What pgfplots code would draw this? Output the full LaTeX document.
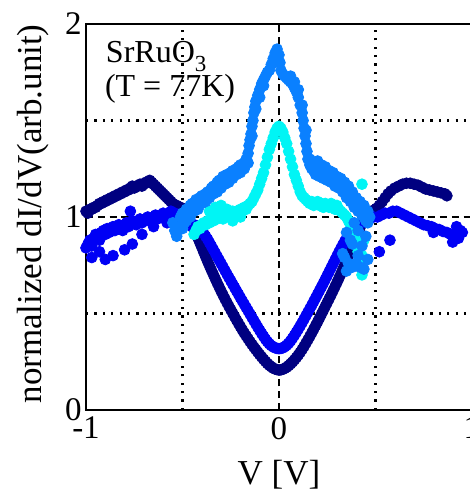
\documentclass[border=0pt]{standalone}
\usepackage{fontspec}
\setmainfont{Liberation Serif}
\usepackage{pgfplots}
\pgfplotsset{compat=1.18}
\definecolor{navyc}{HTML}{000080}
\definecolor{bluec}{HTML}{0000F5}
\definecolor{midc}{HTML}{0A80FF}
\definecolor{cyanc}{HTML}{00F5F5}

\begin{document}
\begin{tikzpicture}
\begin{axis}[
    scale only axis,
    width=193pt, height=193pt,
    xmin=-1, xmax=1, ymin=0, ymax=2,
    axis on top,
    axis line style={black, line width=1pt},
    xtick={-1,0,1}, xticklabels={-1,0,1},
    ytick={0,1,2}, yticklabels={0,1,2},
    minor xtick={-0.5,0.5}, minor ytick={0.5,1.5},
    major tick length=0pt, minor tick length=0pt,
    grid=both,
    major grid style={black, line width=0.9pt, dash pattern=on 3.6pt off 2.3pt},
    minor grid style={black, line width=1.1pt, dash pattern=on 1.1pt off 3.1pt},
    tick label style={font=\fontsize{16.5}{18}\selectfont},
    yticklabel style={inner xsep=2pt},
    xlabel={V [V]},
    xlabel style={at={(axis description cs:0.5,0)}, anchor=base, yshift=-37.5pt,
      font=\fontsize{17.5}{20}\selectfont},
    ylabel={normalized dI/dV(arb.unit)},
    ylabel style={at={(axis description cs:-0.137,0.508)}, anchor=center,
      font=\fontsize{17.5}{20}\selectfont},
    every axis plot/.append style={only marks, mark=*, mark size=2.7pt},
]
% navy: V-shaped gap, humps outside
\addplot[navyc, mark options={draw=none, fill=navyc}] coordinates {
(-1.00,1.03)(-0.99,1.02)(-0.98,1.04)(-0.97,1.04)(-0.96,1.05)(-0.95,1.05)(-0.94,1.06)(-0.93,1.07)
(-0.92,1.07)(-0.91,1.08)(-0.90,1.08)(-0.89,1.09)(-0.88,1.09)(-0.87,1.10)(-0.86,1.10)(-0.85,1.11)
(-0.84,1.11)(-0.83,1.12)(-0.82,1.12)(-0.81,1.13)(-0.80,1.13)(-0.79,1.14)(-0.78,1.14)(-0.77,1.15)
(-0.76,1.16)(-0.75,1.15)(-0.74,1.16)(-0.73,1.16)(-0.72,1.17)(-0.71,1.16)(-0.70,1.17)(-0.69,1.18)
(-0.68,1.18)(-0.67,1.19)(-0.66,1.18)(-0.65,1.17)(-0.64,1.16)(-0.63,1.15)(-0.62,1.14)(-0.61,1.13)
(-0.60,1.12)(-0.59,1.11)(-0.58,1.10)(-0.57,1.09)(-0.56,1.08)(-0.55,1.07)(-0.54,1.06)(-0.53,1.06)
(-0.52,1.05)(-0.51,1.05)(-0.50,1.04)(-0.49,1.02)(-0.48,1.00)(-0.47,0.98)(-0.46,0.965)
(-0.45,0.95)(-0.44,0.934)(-0.43,0.914)(-0.42,0.891)(-0.41,0.867)(-0.40,0.843)(-0.39,0.818)
(-0.38,0.794)(-0.37,0.77)(-0.36,0.747)(-0.35,0.724)(-0.34,0.702)(-0.33,0.68)(-0.32,0.658)
(-0.31,0.637)(-0.30,0.616)(-0.29,0.596)(-0.28,0.576)(-0.27,0.557)(-0.26,0.538)(-0.25,0.52)
(-0.24,0.502)(-0.23,0.484)(-0.22,0.466)(-0.21,0.449)(-0.20,0.432)(-0.19,0.415)(-0.18,0.399)
(-0.17,0.384)(-0.16,0.369)(-0.15,0.354)(-0.14,0.34)(-0.13,0.326)(-0.12,0.313)(-0.11,0.30)
(-0.10,0.287)(-0.09,0.275)(-0.08,0.263)(-0.07,0.252)(-0.06,0.241)(-0.05,0.232)(-0.04,0.224)
(-0.03,0.217)(-0.02,0.212)(-0.01,0.209)(0.00,0.207)
(0.01,0.208)(0.02,0.211)(0.03,0.216)(0.04,0.222)(0.05,0.23)(0.06,0.239)(0.07,0.249)(0.08,0.26)
(0.09,0.272)(0.10,0.285)(0.11,0.299)(0.12,0.314)(0.13,0.33)(0.14,0.347)(0.15,0.364)(0.16,0.382)
(0.17,0.40)(0.18,0.419)(0.19,0.438)(0.20,0.457)(0.21,0.477)(0.22,0.497)(0.23,0.517)(0.24,0.537)
(0.25,0.557)(0.26,0.577)(0.27,0.597)(0.28,0.618)(0.29,0.639)(0.30,0.66)(0.31,0.682)(0.32,0.704)
(0.33,0.727)(0.34,0.75)(0.35,0.774)(0.36,0.798)(0.37,0.823)(0.38,0.848)(0.39,0.873)(0.40,0.898)
(0.41,0.922)(0.42,0.945)(0.43,0.966)(0.44,0.985)(0.45,1.00)(0.46,1.013)(0.475,1.025)
(0.49,1.035)(0.505,1.045)(0.52,1.06)(0.535,1.08)(0.55,1.10)(0.565,1.12)(0.58,1.135)(0.60,1.15)
(0.62,1.16)(0.64,1.17)(0.66,1.175)(0.68,1.175)(0.70,1.17)(0.72,1.165)(0.74,1.155)(0.76,1.145)
(0.78,1.14)(0.80,1.135)(0.82,1.13)(0.84,1.125)(0.86,1.12)(0.87,1.11)
};
% blue: shallower V, noisy flanks
\addplot[bluec, mark options={draw=none, fill=bluec}] coordinates {
(-1.00,0.84)(-0.99,0.86)(-0.98,0.88)(-0.97,0.85)(-0.96,0.89)(-0.95,0.91)(-0.94,0.90)(-0.93,0.88)
(-0.92,0.92)(-0.91,0.93)(-0.90,0.91)(-0.89,0.94)(-0.88,0.92)(-0.87,0.93)(-0.86,0.95)(-0.85,0.93)
(-0.84,0.94)(-0.83,0.96)(-0.82,0.95)(-0.81,0.93)(-0.80,0.96)(-0.79,0.97)(-0.78,0.95)(-0.77,0.96)
(-0.76,0.98)(-0.75,0.97)(-0.74,0.96)(-0.73,0.98)(-0.72,0.99)(-0.71,0.97)(-0.70,0.98)(-0.69,0.99)
(-0.68,1.00)(-0.67,0.98)(-0.66,0.99)(-0.65,1.00)(-0.64,1.01)(-0.63,0.99)(-0.62,1.00)(-0.61,1.01)
(-0.60,1.02)(-0.59,1.00)(-0.58,1.01)(-0.57,1.02)(-0.56,1.03)(-0.55,1.01)(-0.54,1.02)(-0.53,1.00)
(-0.52,1.01)(-0.51,0.99)(-0.50,1.00)(-0.49,0.98)(-0.48,0.97)(-0.47,0.96)(-0.46,0.97)(-0.45,0.95)
(-0.97,0.79)(-0.90,0.78)(-0.86,0.80)(-0.80,0.83)(-0.76,0.86)(-0.93,0.82)(-0.77,1.03)(-0.71,0.91)
(-0.65,0.95)(-0.58,0.97)
(-0.44,0.96)(-0.43,0.955)(-0.42,0.95)(-0.41,0.94)(-0.40,0.93)(-0.39,0.915)(-0.38,0.90)
(-0.37,0.885)(-0.36,0.867)(-0.35,0.849)(-0.34,0.831)(-0.33,0.813)(-0.32,0.795)(-0.31,0.777)
(-0.30,0.759)(-0.29,0.741)(-0.28,0.723)(-0.27,0.705)(-0.26,0.687)(-0.25,0.67)(-0.24,0.652)
(-0.23,0.635)(-0.22,0.617)(-0.21,0.60)(-0.20,0.582)(-0.19,0.565)(-0.18,0.548)(-0.17,0.531)
(-0.16,0.514)(-0.15,0.497)(-0.14,0.48)(-0.13,0.463)(-0.12,0.446)(-0.11,0.429)(-0.10,0.413)
(-0.09,0.397)(-0.08,0.382)(-0.07,0.367)(-0.06,0.354)(-0.05,0.343)(-0.04,0.334)(-0.03,0.327)
(-0.02,0.322)(-0.01,0.319)(0.00,0.318)
(0.01,0.319)(0.02,0.322)(0.03,0.328)(0.04,0.336)(0.05,0.346)(0.06,0.358)(0.07,0.372)(0.08,0.387)
(0.09,0.403)(0.10,0.419)(0.11,0.436)(0.12,0.453)(0.13,0.471)(0.14,0.489)(0.15,0.507)(0.16,0.525)
(0.17,0.543)(0.18,0.562)(0.19,0.581)(0.20,0.60)(0.21,0.619)(0.22,0.638)(0.23,0.657)(0.24,0.677)
(0.25,0.697)(0.26,0.717)(0.27,0.737)(0.28,0.757)(0.29,0.777)(0.30,0.797)(0.31,0.817)(0.32,0.836)
(0.33,0.855)(0.34,0.873)(0.35,0.89)(0.36,0.905)(0.37,0.92)(0.38,0.933)(0.39,0.945)(0.40,0.955)
(0.42,0.965)(0.44,0.975)(0.46,0.985)
(0.47,0.99)(0.49,1.00)(0.51,1.00)(0.53,1.01)(0.55,1.02)(0.57,1.02)(0.59,1.03)(0.61,1.03)
(0.63,1.02)(0.65,1.01)(0.67,1.00)(0.69,0.99)(0.71,0.98)(0.73,0.97)(0.75,0.96)(0.77,0.955)
(0.79,0.95)(0.81,0.94)(0.83,0.935)(0.85,0.925)(0.87,0.92)(0.89,0.91)(0.91,0.90)(0.93,0.89)
(0.95,0.92)(0.575,0.88)(0.52,0.82)(0.92,0.95)(0.94,0.93)(0.90,0.87)(0.80,0.92)
};
% cyan: narrow zero-bias peak
\addplot[cyanc, mark options={draw=none, fill=cyanc}] coordinates {
(-0.44,0.91)(-0.43,0.93)(-0.42,0.95)(-0.41,0.94)(-0.40,0.96)(-0.39,0.97)(-0.38,0.96)(-0.37,0.98)
(-0.36,0.97)(-0.35,0.99)(-0.34,0.98)(-0.33,1.00)(-0.32,0.99)(-0.31,1.00)(-0.30,1.01)(-0.29,0.99)
(-0.28,1.01)(-0.27,1.02)(-0.26,1.00)(-0.25,1.02)(-0.24,1.03)(-0.23,1.01)(-0.22,1.03)(-0.21,1.02)
(-0.20,1.04)(-0.19,1.03)(-0.18,1.05)(-0.17,1.04)(-0.16,1.06)(-0.15,1.07)(-0.14,1.08)(-0.13,1.10)
(-0.12,1.12)(-0.11,1.14)(-0.10,1.17)(-0.09,1.20)(-0.08,1.23)(-0.07,1.27)(-0.06,1.31)(-0.05,1.35)
(-0.04,1.38)(-0.03,1.41)(-0.02,1.44)(-0.01,1.46)(0.00,1.47)(0.01,1.46)(0.02,1.44)(0.03,1.41)
(0.04,1.38)(0.05,1.34)(0.06,1.30)(0.07,1.26)(0.08,1.22)(0.09,1.19)(0.10,1.16)(0.11,1.13)
(0.12,1.11)(0.13,1.10)(0.14,1.09)(0.15,1.08)(0.16,1.07)(0.17,1.08)(0.18,1.06)(0.19,1.07)
(0.20,1.08)(0.21,1.06)(0.22,1.07)(0.23,1.05)(0.24,1.07)(0.25,1.06)(0.26,1.05)(0.27,1.07)
(0.28,1.06)(0.29,1.04)(0.30,1.06)(0.31,1.04)(0.32,1.03)(0.33,1.02)(0.34,1.01)(0.35,1.00)
(0.36,0.98)(0.37,0.96)(0.38,0.95)(0.39,0.93)(0.40,0.91)(0.41,0.88)(0.42,0.85)(0.43,0.80)
(0.43,1.17)(0.43,0.70)(0.42,0.76)(0.41,0.82)(0.44,0.88)
(-0.36,1.03)(-0.33,1.05)(-0.30,1.06)(-0.27,1.04)(-0.24,0.98)(-0.20,1.00)
};
% medium blue: broad zero-bias peak
\addplot[midc, mark options={draw=none, fill=midc}] coordinates {
(-0.55,0.97)(-0.54,0.93)(-0.53,0.90)(-0.52,0.95)(-0.51,1.00)(-0.50,1.02)(-0.49,0.97)(-0.48,1.04)
(-0.47,1.00)(-0.46,1.06)(-0.45,1.07)(-0.44,1.03)(-0.43,1.09)(-0.42,1.08)(-0.41,1.10)(-0.40,1.11)
(-0.39,1.09)(-0.38,1.12)(-0.37,1.13)(-0.36,1.12)(-0.35,1.15)(-0.34,1.16)(-0.33,1.15)(-0.32,1.18)
(-0.31,1.19)(-0.30,1.17)(-0.29,1.21)(-0.28,1.20)(-0.27,1.22)(-0.26,1.21)(-0.25,1.23)(-0.24,1.24)
(-0.23,1.22)(-0.22,1.25)(-0.21,1.26)(-0.20,1.27)(-0.19,1.26)(-0.18,1.28)(-0.17,1.30)(-0.16,1.33)
(-0.155,1.37)(-0.15,1.40)(-0.145,1.43)(-0.14,1.47)(-0.135,1.50)(-0.13,1.54)(-0.125,1.57)
(-0.12,1.60)(-0.11,1.63)(-0.10,1.66)(-0.09,1.69)(-0.08,1.71)(-0.07,1.73)(-0.06,1.75)(-0.05,1.76)
(-0.04,1.79)(-0.03,1.82)(-0.02,1.85)(-0.01,1.87)(0.00,1.84)(0.005,1.80)(0.01,1.76)(0.02,1.74)
(0.03,1.73)(0.04,1.72)(0.05,1.71)(0.06,1.70)(0.07,1.69)(0.08,1.67)(0.09,1.65)(0.10,1.62)
(0.11,1.58)(0.12,1.54)(0.125,1.50)(0.13,1.46)(0.135,1.42)(0.14,1.38)(0.145,1.34)(0.15,1.30)
(0.16,1.27)(0.17,1.25)(0.18,1.24)(0.19,1.22)(0.20,1.25)(0.21,1.21)(0.22,1.23)(0.23,1.20)
(0.24,1.22)(0.25,1.19)(0.26,1.21)(0.27,1.18)(0.28,1.20)(0.29,1.16)(0.30,1.18)(0.31,1.15)
(0.32,1.17)(0.33,1.13)(0.34,1.14)(0.35,1.10)(0.36,1.12)(0.37,1.08)(0.38,1.09)(0.39,1.05)
(0.40,1.06)(0.41,1.03)(0.42,1.04)(0.43,1.01)(0.44,1.00)(0.45,0.98)(0.46,0.97)
(0.35,0.92)(0.37,0.88)(0.38,0.86)(0.33,0.81)(0.34,0.79)(0.36,0.76)(0.38,0.74)(0.40,0.76)
(0.42,0.74)(0.44,0.73)(0.35,0.72)(0.41,0.80)(0.43,0.85)(0.45,0.90)(0.46,0.78)(0.39,0.97)
(0.41,0.93)
(-0.50,0.94)(-0.48,0.98)(-0.46,1.00)(-0.44,1.05)(-0.42,1.04)(-0.40,1.07)(-0.38,1.08)(-0.36,1.10)
(-0.34,1.12)(-0.32,1.13)(-0.30,1.15)(-0.28,1.17)(-0.26,1.18)(-0.24,1.20)(-0.22,1.22)(-0.20,1.23)
(-0.18,1.25)(-0.16,1.28)(-0.14,1.42)(-0.12,1.56)(-0.10,1.62)(-0.08,1.68)
(0.06,1.73)(0.08,1.70)(0.10,1.66)(0.12,1.58)(0.14,1.45)(0.16,1.30)(0.18,1.28)(0.20,1.29)
(0.22,1.27)(0.24,1.26)(0.26,1.24)(0.28,1.23)(0.30,1.21)(0.32,1.20)(0.34,1.18)(0.36,1.16)
(0.38,1.13)(0.40,1.10)(0.42,1.08)(0.44,1.06)(0.46,1.03)(0.47,1.00)
};
\node[anchor=base west, font=\fontsize{16}{18}\selectfont] at (axis cs:-0.933,1.798)
  {SrRuO\raisebox{-4.5pt}{\fontsize{11.5}{12}\selectfont 3}};
\node[anchor=base west, font=\fontsize{16}{18}\selectfont] at (axis cs:-0.938,1.622)
  {(T = 77K)};
\coordinate (bbl) at (axis cs:-1.4456,-0.4249);
\coordinate (btr) at (axis cs:0.9896,2.1244);
\end{axis}
\pgfresetboundingbox
\path[use as bounding box] (bbl) rectangle (btr);
\end{tikzpicture}
\end{document}
